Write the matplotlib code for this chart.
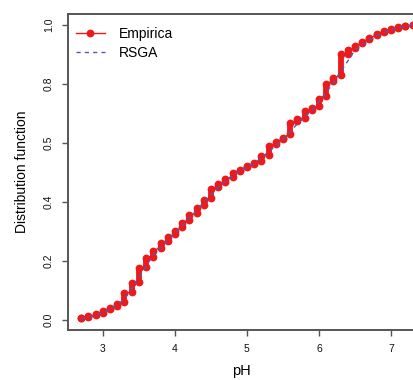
import matplotlib
matplotlib.use("Agg")
import matplotlib.pyplot as plt

plt.rcParams['font.family'] = ['Liberation Sans', 'DejaVu Sans']

# empirical distribution: pH value and the low / high end of the step at it
ph_emp = [2.7, 2.8, 2.9, 3.0, 3.1, 3.2, 3.3, 3.4, 3.5, 3.6, 3.7, 3.8, 3.9, 4.0,
          4.1, 4.2, 4.3, 4.4, 4.5, 4.6, 4.7, 4.8, 4.9, 5.0, 5.1, 5.2, 5.3, 5.4,
          5.5, 5.6, 5.7, 5.8, 5.9, 6.0, 6.1, 6.2, 6.3, 6.4, 6.5, 6.6, 6.7, 6.8,
          6.9, 7.0, 7.1, 7.2, 7.3]
cdf_low = [0.005, 0.010, 0.016, 0.025, 0.037, 0.048, 0.060, 0.095, 0.130, 0.180,
           0.215, 0.245, 0.268, 0.290, 0.315, 0.340, 0.362, 0.390, 0.415, 0.450,
           0.468, 0.485, 0.505, 0.518, 0.528, 0.540, 0.560, 0.598, 0.612, 0.630,
           0.675, 0.685, 0.712, 0.725, 0.760, 0.810, 0.830, 0.900, 0.922, 0.938,
           0.952, 0.965, 0.975, 0.983, 0.990, 0.995, 0.999]
cdf_high = [0.008, 0.012, 0.020, 0.030, 0.042, 0.055, 0.090, 0.125, 0.175, 0.210,
            0.235, 0.260, 0.280, 0.300, 0.330, 0.355, 0.380, 0.405, 0.445, 0.462,
            0.478, 0.498, 0.510, 0.522, 0.532, 0.555, 0.590, 0.602, 0.618, 0.668,
            0.682, 0.710, 0.720, 0.750, 0.800, 0.820, 0.900, 0.915, 0.928, 0.942,
            0.956, 0.970, 0.978, 0.986, 0.992, 0.997, 1.000]

# fitted RSGA distribution
ph_fit = [2.7, 2.9, 3.1, 3.3, 3.5, 3.7, 3.9, 4.1, 4.3, 4.5, 4.7, 4.9, 5.1, 5.3,
          5.5, 5.7, 5.9, 6.1, 6.3, 6.5, 6.7, 6.9, 7.1, 7.3]
cdf_fit = [0.004, 0.016, 0.036, 0.070, 0.145, 0.220, 0.270, 0.320, 0.370, 0.425,
           0.470, 0.505, 0.530, 0.570, 0.610, 0.665, 0.710, 0.770, 0.840, 0.915,
           0.950, 0.975, 0.990, 1.000]

ytick_pos = [0.0, 0.2, 0.4, 0.6, 0.8, 1.0]
ytick_lab = ['0.0', '0.2', '0.4', '0.5', '0.8', '1.0']
xtick_pos = [3, 4, 5, 6, 7]

red = '#ec1a1a'
blue = '#5656b8'

fig = plt.figure(figsize=(4.14, 3.80), dpi=100)
ax = fig.add_axes([0.164, 0.1316, 0.836, 0.8314])

# steps of the empirical curve
xs, ys = [], []
for x, lo, hi in zip(ph_emp, cdf_low, cdf_high):
    xs += [x, x]
    ys += [lo, hi]
ax.vlines(ph_emp, cdf_low, cdf_high, colors=red, linewidth=4.2, zorder=3)
ax.plot(xs, ys, color=red, lw=1.0, marker='o', ms=4.6, mec=red, mfc=red,
        zorder=3, label='Empirica')
ax.plot(ph_fit, cdf_fit, color=blue, lw=1.0, ls=(0, (3, 3)), zorder=4,
        label='RSGA')

ax.set_xlim(2.514, 7.32)
ax.set_ylim(-0.034, 1.037)
ax.set_xticks(xtick_pos)
ax.set_yticks(ytick_pos)
ax.set_yticklabels(ytick_lab, rotation=90, va='center')

for side in ['left', 'bottom', 'top']:
    ax.spines[side].set_color('#555555')
    ax.spines[side].set_linewidth(1.4)
ax.spines['right'].set_visible(False)
ax.tick_params(axis='both', labelsize=7.5, length=4, width=1.0, color='#555555',
               pad=6, labelcolor='#111111')

ax.set_xlabel('pH', fontsize=10.5, labelpad=7)
ax.set_ylabel('Distribution function', fontsize=10, labelpad=11)

ax.legend(loc='upper left', frameon=False, fontsize=10, handlelength=2.1,
          handletextpad=1.0, labelspacing=0.35, borderaxespad=0.3,
          bbox_to_anchor=(-0.005, 0.99))

fig.savefig('out.png', dpi=100)
